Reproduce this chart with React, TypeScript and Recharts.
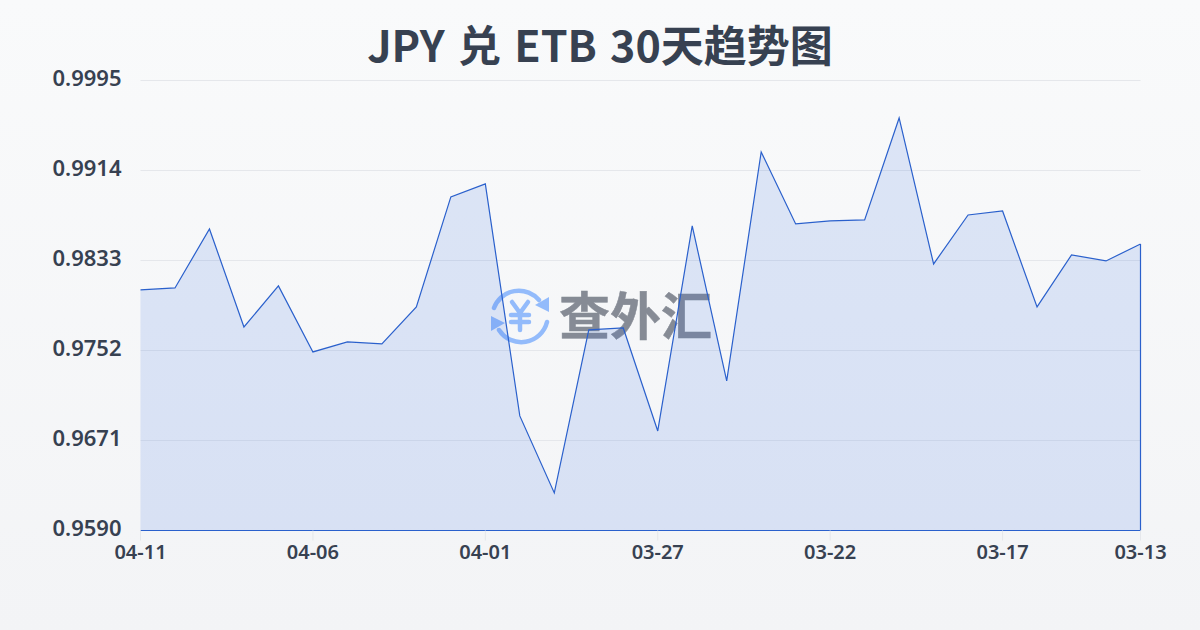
import { AreaChart, Area, XAxis, YAxis, CartesianGrid, ReferenceLine } from "recharts";

const dates = [
  "04-11", "04-10", "04-09", "04-08", "04-07", "04-06", "04-05", "04-04", "04-03", "04-02",
  "04-01", "03-31", "03-30", "03-29", "03-28", "03-27", "03-26", "03-25", "03-24", "03-23",
  "03-22", "03-21", "03-20", "03-19", "03-18", "03-17", "03-16", "03-15", "03-14", "03-13",
];
const rates = [
  0.98065, 0.98083, 0.98614, 0.97732, 0.98101, 0.97507, 0.97597, 0.97579, 0.97912, 0.98902,
  0.99019, 0.96931, 0.96238, 0.97705, 0.97723, 0.96796, 0.98641, 0.97246, 0.99307, 0.98659,
  0.98686, 0.98695, 0.99613, 0.98299, 0.9874, 0.98776, 0.97912, 0.9838, 0.98326, 0.98479,
];
const xTicks = ["04-11", "04-06", "04-01", "03-27", "03-22", "03-17", "03-13"];
const yTicks = [0.959, 0.9671, 0.9752, 0.9833, 0.9914, 0.9995];

const data = dates.map((date, i) => ({ date, rate: rates[i] }));

const lineColor = "#2a60cc";
const fillColor = "#2f6be0";
const textColor = "#374151";
const firstDate = dates[0];
const lastDate = dates[dates.length - 1];

function Watermark() {
  return (
    <div style={{ position: "absolute", left: 489, top: 284, width: 230, height: 62 }}>
      <svg width={62} height={62} style={{ position: "absolute", left: 0, top: 0 }}>
        <g fill="none" stroke="#93bbfb" strokeWidth={4.5} strokeLinecap="round">
          <path d="M5 24 A26.5 26.5 0 0 1 50 16" />
          <path d="M58 38 A26.5 26.5 0 0 1 10 46" />
          <path d="M23 18 L31 29 L39 18 M31 29 V46 M22 31 H40 M22 38 H40" />
        </g>
        <path d="M60 13 V28 L46 21 Z M2 32 V47 L16 39 Z" fill="#93bbfb" />
      </svg>
      <div
        style={{
          position: "absolute",
          left: 70,
          top: -6,
          fontFamily: "'Noto Sans CJK SC'",
          fontWeight: 700,
          fontSize: 51,
          lineHeight: "70px",
          whiteSpace: "nowrap",
          color: "#868b95",
          WebkitTextStroke: "0.5px #868b95",
        }}
      >
        查外汇
      </div>
    </div>
  );
}

export default function App() {
  return (
    <div
      style={{
        position: "absolute",
        left: 0,
        top: 0,
        width: 1200,
        height: 630,
        overflow: "hidden",
        background: "linear-gradient(180deg, #f9fafb 0%, #f3f4f6 100%)",
        fontFamily: "'Noto Sans', 'Noto Sans CJK SC', sans-serif",
      }}
    >
      <Watermark />
      <div
        style={{
          position: "absolute",
          left: 0,
          top: 15,
          width: 1200,
          textAlign: "center",
          fontFamily: "'Noto Sans CJK SC'",
          fontWeight: 700,
          fontSize: 43,
          wordSpacing: 3.5,
          lineHeight: "56px",
          color: textColor,
        }}
      >
        JPY 兑 ETB 30天趋势图
      </div>
      <div style={{ position: "absolute", left: 0, top: 0 }}>
        <AreaChart
          width={1200}
          height={630}
          data={data}
          margin={{ top: 80.5, right: 59.5, bottom: 59.5, left: 0 }}
        >
          <CartesianGrid vertical={false} stroke="#e5e7eb" strokeWidth={1} />
          <XAxis
            dataKey="date"
            height={40}
            ticks={xTicks}
            interval={0}
            axisLine={false}
            tickLine={{ stroke: "#e5e7eb" }}
            tickSize={10}
            tickMargin={1}
            tick={{ fontSize: 20, fontWeight: 600, fill: textColor, dy: 3 }}
          />
          <YAxis
            width={140.5}
            domain={[0.959, 0.9995]}
            ticks={yTicks}
            tickFormatter={(v: number) => v.toFixed(4)}
            axisLine={false}
            tickLine={false}
            tickMargin={13}
            tick={{ fontSize: 22, fontWeight: 600, fill: textColor, dy: -2 }}
          />
          <Area
            type="linear"
            dataKey="rate"
            stroke={lineColor}
            strokeWidth={1.2}
            fill={fillColor}
            fillOpacity={0.14}
            dot={false}
            activeDot={false}
            isAnimationActive={false}
          />
          <ReferenceLine
            segment={[{ x: firstDate, y: rates[0] }, { x: firstDate, y: 0.959 }]}
            stroke={lineColor}
            strokeWidth={1.2}
          />
          <ReferenceLine
            segment={[{ x: lastDate, y: 0.959 }, { x: lastDate, y: rates[rates.length - 1] }]}
            stroke={lineColor}
            strokeWidth={1.2}
          />
          <ReferenceLine y={0.959} stroke={lineColor} strokeWidth={1.2} />
        </AreaChart>
      </div>
    </div>
  );
}
